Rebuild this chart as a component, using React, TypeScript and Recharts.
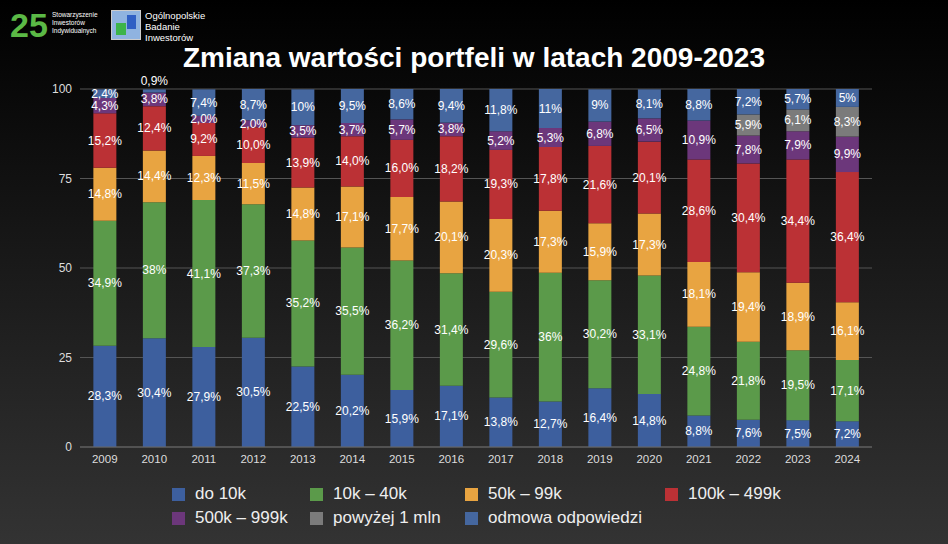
import { BarChart, Bar, XAxis, YAxis, CartesianGrid, LabelList } from "recharts";

const years = ["2009","2010","2011","2012","2013","2014","2015","2016","2017","2018","2019","2020","2021","2022","2023","2024"];
const do10k = [28.3,30.4,27.9,30.5,22.5,20.2,15.9,17.1,13.8,12.7,16.4,14.8,8.8,7.6,7.5,7.2];
const k10_40 = [34.9,38,41.1,37.3,35.2,35.5,36.2,31.4,29.6,36,30.2,33.1,24.8,21.8,19.5,17.1];
const k50_99 = [14.8,14.4,12.3,11.5,14.8,17.1,17.7,20.1,20.3,17.3,15.9,17.3,18.1,19.4,18.9,16.1];
const k100_499 = [15.2,12.4,9.2,10.0,13.9,14.0,16.0,18.2,19.3,17.8,21.6,20.1,28.6,30.4,34.4,36.4];
const k500_999 = [4.3,3.8,2.0,2.0,3.5,3.7,5.7,3.8,5.2,5.3,6.8,6.5,10.9,7.8,7.9,9.9];
const mln = [0,0,0,0,0,0,0,0,0,0,0,0,0,5.9,6.1,8.3];
const odmowa = [2.4,0.9,7.4,8.7,10,9.5,8.6,9.4,11.8,11,9,8.1,8.8,7.2,5.7,5];

const series = [
  { key: "a", name: "do 10k", values: do10k, color: "#3d5f9e", fixed: false },
  { key: "b", name: "10k – 40k", values: k10_40, color: "#5b9a4a", fixed: false },
  { key: "c", name: "50k – 99k", values: k50_99, color: "#e8a441", fixed: false },
  { key: "d", name: "100k – 499k", values: k100_499, color: "#bb3135", fixed: true },
  { key: "e", name: "500k – 999k", values: k500_999, color: "#6c377b", fixed: true },
  { key: "f", name: "powyżej 1 mln", values: mln, color: "#7b7b7b", fixed: true },
  { key: "g", name: "odmowa odpowiedzi", values: odmowa, color: "#45679f", fixed: false },
];

const data = years.map((y, i) => {
  const row: any = { year: y };
  series.forEach((s) => (row[s.key] = s.values[i]));
  return row;
});

const makeLabel = (fixed: boolean) => (props: any) => {
  const { x, y, width, height, value } = props;
  if (!value) return null;
  const txt = (fixed ? value.toFixed(1) : String(value)).replace(".", ",") + "%";
  const cy = value < 1.5 ? y + height / 2 - 10 : y + height / 2;
  return (
    <text x={x + width / 2} y={cy} fill="#fff" fontSize={12} textAnchor="middle" dominantBaseline="central">
      {txt}
    </text>
  );
};

export default function App() {
  return (
    <div style={{ position: "absolute", left: 0, top: 0, width: 948, height: 544, background: "linear-gradient(#000 0%, #1a1a1a 50%, #333 100%)", fontFamily: "Helvetica, Arial, 'Liberation Sans', sans-serif", overflow: "hidden" }}>
      <div style={{ position: "absolute", left: 10, top: 8, color: "#5bb946", fontSize: 34, fontWeight: 700, lineHeight: "34px" }}>25</div>
      <div style={{ position: "absolute", left: 52, top: 11, color: "#fff", fontSize: 6.5, lineHeight: "8px" }}>Stowarzyszenie<br />Inwestorów<br />Indywidualnych</div>
      <div style={{ position: "absolute", left: 111, top: 10, width: 28, height: 28, background: "#8fb3e0", border: "1px solid #ccc" }}>
        <div style={{ position: "absolute", left: 4, top: 12, width: 10, height: 12, background: "#3cb44a" }} />
        <div style={{ position: "absolute", left: 15, top: 4, width: 9, height: 14, background: "#2f5fc4" }} />
      </div>
      <div style={{ position: "absolute", left: 145, top: 10, color: "#fff", fontSize: 9.5, lineHeight: "11px" }}>Ogólnopolskie<br />Badanie<br />Inwestorów</div>
      <div style={{ position: "absolute", left: 0, width: 948, top: 42, textAlign: "center", color: "#fff", fontSize: 28, fontWeight: 700 }}>
        Zmiana wartości portfeli w latach 2009-2023
      </div>
      <div style={{ position: "absolute", left: 0, top: 0 }}>
        <BarChart width={948} height={544} data={data} margin={{ top: 89, right: 76, bottom: 79, left: 40 }} barCategoryGap="27%">
          <CartesianGrid vertical={false} stroke="#555" />
          <XAxis dataKey="year" stroke="#666" tickLine={false} tick={{ fill: "#ddd", fontSize: 11.5 }} height={18} />
          <YAxis domain={[0, 100]} ticks={[0, 25, 50, 75, 100]} allowDataOverflow axisLine={false} tickLine={false} width={40} tick={{ fill: "#ddd", fontSize: 12 }} />
          {series.map((s) => (
            <Bar key={s.key} dataKey={s.key} stackId="s" fill={s.color} isAnimationActive={false}>
              <LabelList dataKey={s.key} content={makeLabel(s.fixed)} />
            </Bar>
          ))}
        </BarChart>
      </div>
      <div style={{ position: "absolute", left: 172, top: 484, width: 700, display: "flex", flexWrap: "wrap", rowGap: 4, color: "#eee", fontSize: 17 }}>
        {series.map((s, i) => (
          <div key={s.key} style={{ display: "flex", alignItems: "center", width: [138, 155, 200, 160, 138, 155, 250][i] }}>
            <span style={{ display: "inline-block", width: 13, height: 13, background: s.color, marginRight: 10 }} />
            {s.name}
          </div>
        ))}
      </div>
    </div>
  );
}
